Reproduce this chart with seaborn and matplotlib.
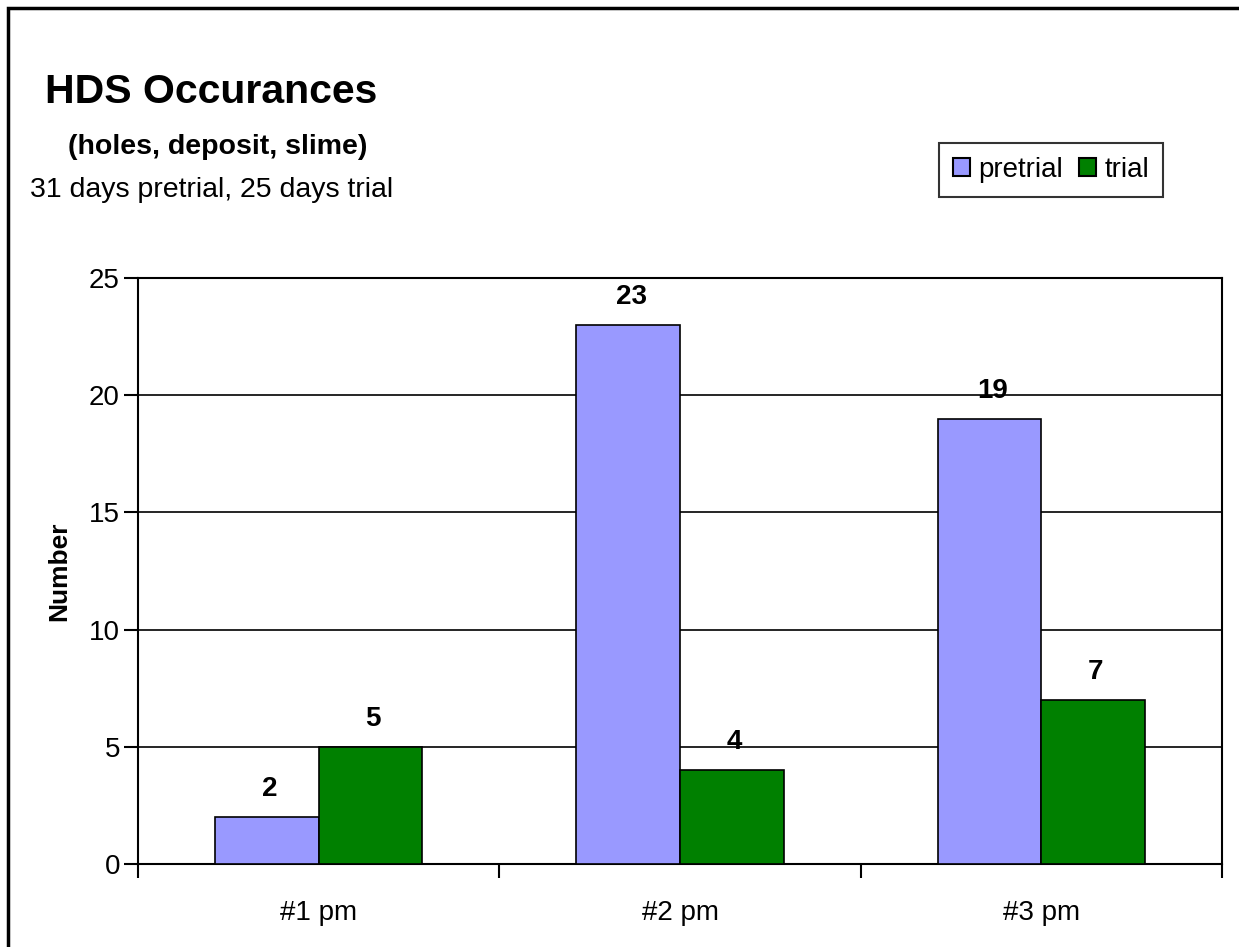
import pandas as pd
import numpy as np
import matplotlib.pyplot as plt
import seaborn as sns
from matplotlib.patches import Rectangle

# Data
categories = ['#1 pm', '#2 pm', '#3 pm']
series_names = ['pretrial', 'trial']
pretrial = [2, 23, 19]
trial = [5, 4, 7]
colors = {'pretrial': '#9999FF', 'trial': '#008000'}

df = pd.DataFrame({
    'category': categories * 2,
    'series': ['pretrial'] * 3 + ['trial'] * 3,
    'value': pretrial + trial,
})

sns.set_style('white')
plt.rcParams['font.family'] = ['Liberation Sans', 'DejaVu Sans']
plt.rcParams['text.color'] = 'black'
plt.rcParams['xtick.color'] = 'black'
plt.rcParams['ytick.color'] = 'black'
plt.rcParams['axes.labelcolor'] = 'black'

fig = plt.figure(figsize=(12.39, 9.47), dpi=100)
ax = fig.add_axes([138 / 1239, 1 - 864 / 947, (1222 - 138) / 1239, (864 - 278) / 947])

sns.barplot(data=df, x='category', y='value', hue='series', hue_order=series_names,
            palette=colors, width=0.573, edgecolor='black', linewidth=1.2,
            saturation=1, ax=ax, zorder=3)

ax.set_ylim(0, 25)
ax.set_xlim(-0.5, 2.5)
ax.set_yticks([0, 5, 10, 15, 20, 25])
ax.yaxis.grid(True, color='black', linewidth=1.2, zorder=0)
ax.xaxis.grid(False)
ax.set_axisbelow(True)
for s in ax.spines.values():
    s.set_color('black')
    s.set_linewidth(1.5)

ax.tick_params(axis='y', labelsize=20, length=10, width=1.5,
               direction='out', left=True, pad=3)
ax.set_xticks([0, 1, 2])
ax.set_xticks([-0.5, 0.5, 1.5, 2.5], minor=True)
ax.tick_params(axis='x', which='major', length=0, labelsize=20, pad=26)
ax.tick_params(axis='x', which='minor', length=10, width=1.5,
               direction='out', bottom=True)

ax.set_xlabel('')
ax.set_ylabel('Number', fontsize=19, fontweight='bold', labelpad=13)

# value labels
for cont in ax.containers:
    for bar in cont:
        h = bar.get_height()
        ax.annotate(f'{int(h)}', (bar.get_x() + bar.get_width() / 2, h),
                    xytext=(2, 20), textcoords='offset points',
                    ha='center', va='center', fontsize=20, fontweight='bold')

# legend
ax.legend_.remove()
handles = [Rectangle((0, 0), 1, 1, facecolor=colors[n], edgecolor='black', linewidth=1.5)
           for n in series_names]
leg = fig.legend(handles, series_names, loc='upper right',
                 bbox_to_anchor=(1163 / 1239, 1 - 143 / 947),
                 ncol=2, fontsize=20, frameon=True, fancybox=False,
                 handlelength=0.6, handleheight=0.6, handletextpad=0.3,
                 columnspacing=0.6, borderpad=0.5, borderaxespad=0)
leg.get_frame().set_edgecolor('black')
leg.get_frame().set_linewidth(1.5)

# titles
fig.text(45 / 1239, 1 - 92 / 947, 'HDS Occurances', fontsize=29.5, fontweight='bold',
         ha='left', va='center')
fig.text(68 / 1239, 1 - 147 / 947, '(holes, deposit, slime)', fontsize=20.5,
         fontweight='bold', ha='left', va='center')
fig.text(30 / 1239, 1 - 190 / 947, '31 days pretrial, 25 days trial', fontsize=20.5,
         ha='left', va='center')

# outer chart border (cut off on right and bottom as in the original)
fig.patches.append(Rectangle((8 / 1239, -0.1), 1.2, 1.1 - 8 / 947,
                             transform=fig.transFigure, fill=False,
                             edgecolor='black', linewidth=2.5))

fig.savefig('out.png', dpi=100)
